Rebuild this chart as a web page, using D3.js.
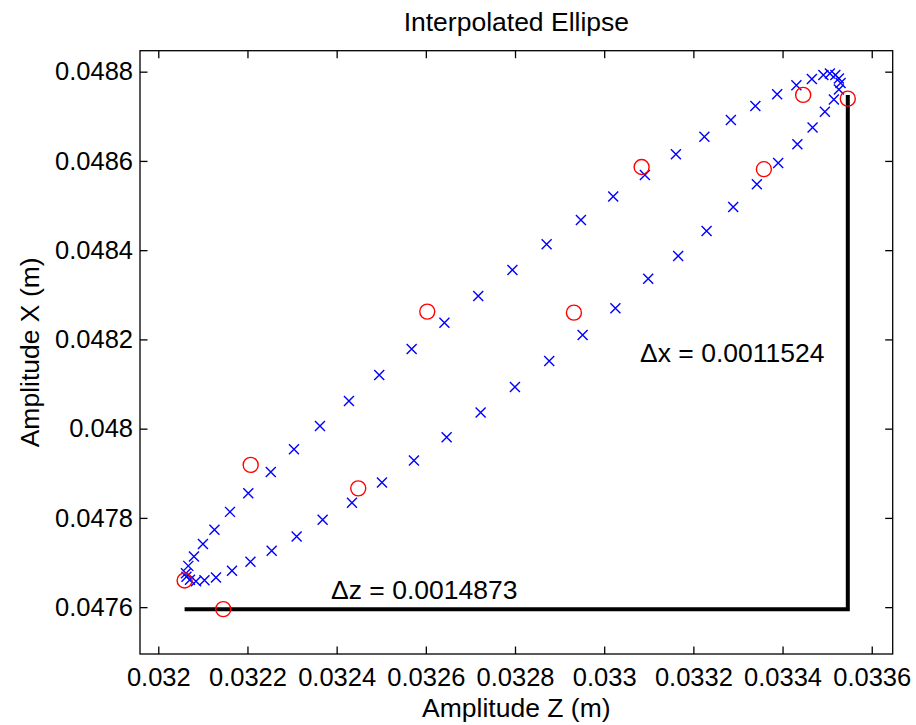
<!DOCTYPE html>
<html>
<head>
<meta charset="utf-8">
<script src="https://cdn.jsdelivr.net/npm/d3@7"></script>
<style>
  html, body { margin: 0; padding: 0; background: #fff; }
  svg { display: block; font-family: "Liberation Sans", Arial, Helvetica, sans-serif; }
</style>
</head>
<body>
<svg id="chart" width="916" height="725"></svg>
<script>
// Interpolated points along the ellipse (Z, X amplitudes in metres)
const interpZ = [
  0.0320621, 0.0320673, 0.0320800, 0.0321002, 0.0321260, 0.0321608, 0.0322018, 0.0322523,
  0.0323043, 0.0323626, 0.0324276, 0.0324955, 0.0325682, 0.0326417, 0.0327175, 0.0327942,
  0.0328709, 0.0329478, 0.0330202, 0.0330913, 0.0331608, 0.0332247, 0.0332841, 0.0333390,
  0.0333879, 0.0334310, 0.0334657, 0.0334915, 0.0335061, 0.0335184, 0.0335263, 0.0335301,
  0.0335263, 0.0335151, 0.0334949, 0.0334673, 0.0334332, 0.0333902, 0.0333424, 0.0332893,
  0.0332296, 0.0331659, 0.0330987, 0.0330251, 0.0329516, 0.0328767, 0.0327998, 0.0327229,
  0.0326467, 0.0325733, 0.0325016, 0.0324343, 0.0323686, 0.0323103, 0.0322543, 0.0322067,
  0.0321653, 0.0321294, 0.0321036, 0.0320845, 0.0320711, 0.0320632
];
const interpX = [
  0.0476762, 0.0476925, 0.0477134, 0.0477414, 0.0477732, 0.0478135, 0.0478550, 0.0479031,
  0.0479540, 0.0480062, 0.0480622, 0.0481205, 0.0481787, 0.0482376, 0.0482974, 0.0483557,
  0.0484133, 0.0484677, 0.0485204, 0.0485685, 0.0486149, 0.0486543, 0.0486918, 0.0487231,
  0.0487493, 0.0487695, 0.0487836, 0.0487926, 0.0487959, 0.0487926, 0.0487847, 0.0487746,
  0.0487601, 0.0487377, 0.0487103, 0.0486749, 0.0486373, 0.0485954, 0.0485477, 0.0484968,
  0.0484431, 0.0483871, 0.0483362, 0.0482699, 0.0482101, 0.0481518, 0.0480936, 0.0480360,
  0.0479809, 0.0479284, 0.0478796, 0.0478341, 0.0477956, 0.0477582, 0.0477266, 0.0477015,
  0.0476813, 0.0476665, 0.0476605, 0.0476583, 0.0476612, 0.0476679
];

// Measured samples
const measZ = [0.0320590, 0.0321457, 0.0322072, 0.0324484, 0.0326032, 0.0329321, 0.0330839, 0.0333581, 0.0334462, 0.0335463];
const measX = [0.0476596, 0.0475955, 0.0479188, 0.0478662, 0.0482623, 0.0482600, 0.0485864, 0.0485815, 0.0487479, 0.0487395];

// Peak-to-peak spans
const deltaZ = 0.0014873;
const deltaX = 0.0011524;

const xTicks = [0.032, 0.0322, 0.0324, 0.0326, 0.0328, 0.033, 0.0332, 0.0334, 0.0336];
const yTicks = [0.0476, 0.0478, 0.048, 0.0482, 0.0484, 0.0486, 0.0488];
const xTickLabels = ["0.032", "0.0322", "0.0324", "0.0326", "0.0328", "0.033", "0.0332", "0.0334", "0.0336"];
const yTickLabels = ["0.0476", "0.0478", "0.048", "0.0482", "0.0484", "0.0486", "0.0488"];
const xDomain = [0.031959, 0.033647];
const yDomain = [0.047495, 0.048847];

const box = { left: 140, right: 892.7, top: 50.7, bottom: 654 };
const svg = d3.select("#chart");

const x = d3.scaleLinear().domain(xDomain).range([box.left, box.right]);
const y = d3.scaleLinear().domain(yDomain).range([box.bottom, box.top]);

const tickFont = 25.5;
const textFont = 26.5;
const tickLen = 7.5;

// Axes with inward ticks on all four sides
const g = svg.append("g");
const bottomAxis = d3.axisBottom(x).tickValues(xTicks).tickFormat((d, i) => xTickLabels[i])
  .tickSizeInner(-tickLen).tickSizeOuter(0).tickPadding(14);
const topAxis = d3.axisTop(x).tickValues(xTicks).tickFormat("").tickSizeInner(-tickLen).tickSizeOuter(0);
const leftAxis = d3.axisLeft(y).tickValues(yTicks).tickFormat((d, i) => yTickLabels[i])
  .tickSizeInner(-tickLen).tickSizeOuter(0).tickPadding(7);
const rightAxis = d3.axisRight(y).tickValues(yTicks).tickFormat("").tickSizeInner(-tickLen).tickSizeOuter(0);

const styleAxis = sel => {
  sel.select(".domain").remove();
  sel.selectAll(".tick line").attr("stroke", "#000").attr("stroke-width", 1.3);
  sel.selectAll(".tick text").attr("fill", "#000").style("font-size", tickFont + "px");
};
g.append("g").attr("transform", `translate(0,${box.bottom})`).call(bottomAxis).call(styleAxis);
g.append("g").attr("transform", `translate(0,${box.top})`).call(topAxis).call(styleAxis);
g.append("g").attr("transform", `translate(${box.left},0)`).call(leftAxis).call(styleAxis);
g.append("g").attr("transform", `translate(${box.right},0)`).call(rightAxis).call(styleAxis);

g.append("rect")
  .attr("x", box.left).attr("y", box.top)
  .attr("width", box.right - box.left).attr("height", box.bottom - box.top)
  .attr("fill", "none").attr("stroke", "#000").attr("stroke-width", 1.3);

// Span bracket: horizontal along the minimum X, vertical at the maximum Z
const zMin = d3.min(measZ);
const xMin = d3.min(measX);
const bracket = [[zMin, xMin], [zMin + deltaZ, xMin], [zMin + deltaZ, xMin + deltaX]];
svg.append("path")
  .attr("d", d3.line().x(d => x(d[0])).y(d => y(d[1]))(bracket))
  .attr("fill", "none").attr("stroke", "#000").attr("stroke-width", 4)
  .attr("stroke-linejoin", "miter");

// Interpolated points as crosses
const cs = 5;
svg.append("g").selectAll("path")
  .data(d3.zip(interpZ, interpX))
  .join("path")
  .attr("d", d => {
    const cx = x(d[0]), cy = y(d[1]);
    return `M${cx - cs},${cy - cs}L${cx + cs},${cy + cs}M${cx - cs},${cy + cs}L${cx + cs},${cy - cs}`;
  })
  .attr("stroke", "#0000ff").attr("stroke-width", 1.4).attr("fill", "none");

// Measured samples as open circles
svg.append("g").selectAll("circle")
  .data(d3.zip(measZ, measX))
  .join("circle")
  .attr("cx", d => x(d[0])).attr("cy", d => y(d[1])).attr("r", 7.5)
  .attr("fill", "none").attr("stroke", "#ff0000").attr("stroke-width", 1.4);

// Span annotations
svg.append("text")
  .attr("x", 331).attr("y", 599)
  .style("font-size", textFont + "px")
  .text("\u0394z = " + deltaZ);
svg.append("text")
  .attr("x", 640).attr("y", 362)
  .style("font-size", textFont + "px")
  .text("\u0394x = " + deltaX);

// Title and axis labels
svg.append("text")
  .attr("x", (box.left + box.right) / 2).attr("y", 31)
  .attr("text-anchor", "middle")
  .style("font-size", textFont + "px")
  .text("Interpolated Ellipse");
svg.append("text")
  .attr("x", (box.left + box.right) / 2).attr("y", 717)
  .attr("text-anchor", "middle")
  .style("font-size", textFont + "px")
  .text("Amplitude Z (m)");
svg.append("text")
  .attr("transform", `translate(39,${(box.top + box.bottom) / 2}) rotate(-90)`)
  .attr("text-anchor", "middle")
  .style("font-size", textFont + "px")
  .text("Amplitude X (m)");
</script>
</body>
</html>
